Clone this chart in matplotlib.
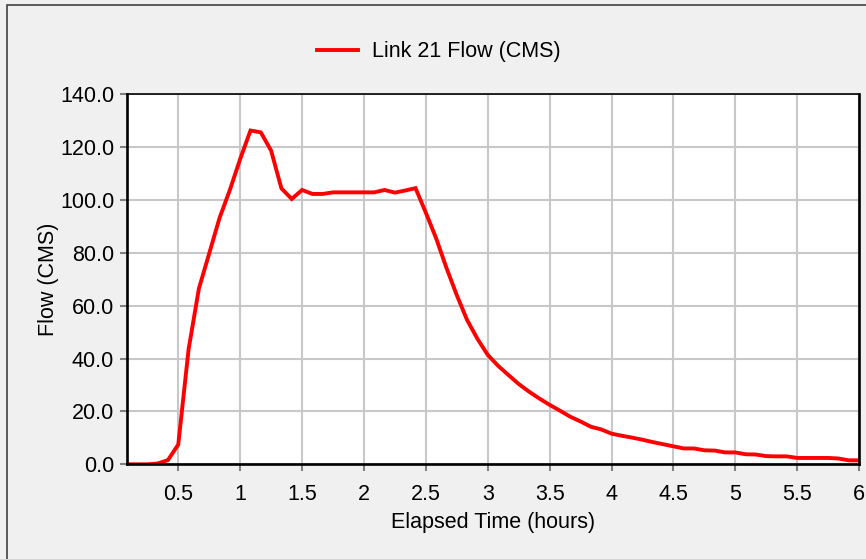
import matplotlib
matplotlib.use("Agg")
import matplotlib.pyplot as plt
from matplotlib.patches import Rectangle
from matplotlib.ticker import FormatStrFormatter
import numpy as np

plt.rcParams['font.family'] = ['Liberation Sans', 'DejaVu Sans']

# 5-minute reporting steps over 6 hours
minutes = np.arange(5, 365, 5)
hours = minutes / 60.0

# Link 21 flow (CMS) at each reporting step
flow = [0.0, 0.0, 0.0, 0.3, 1.6, 7.5, 43.5, 66.5, 79.8, 93.2, 103.8, 115.5,
        126.3, 125.6, 118.7, 104.4, 100.4, 103.8, 102.3, 102.3, 102.9, 102.9, 102.9, 102.9,
        102.9, 103.8, 102.8, 103.6, 104.5, 95.2, 85.5, 74.3, 64.0, 54.6, 47.5, 41.4,
        37.3, 33.8, 30.4, 27.5, 24.9, 22.5, 20.3, 18.0, 16.2, 14.2, 13.2, 11.6,
        10.8, 10.1, 9.3, 8.4, 7.6, 6.8, 6.0, 6.0, 5.3, 5.2, 4.5, 4.5,
        3.8, 3.7, 3.1, 3.0, 3.0, 2.4, 2.4, 2.4, 2.4, 2.2, 1.5, 1.5]

x_ticks = [0.5, 1, 1.5, 2, 2.5, 3, 3.5, 4, 4.5, 5, 5.5, 6]
x_tick_labels = ['0.5', '1', '1.5', '2', '2.5', '3', '3.5', '4', '4.5', '5', '5.5', '6']
y_ticks = [0, 20, 40, 60, 80, 100, 120, 140]

fs = 15.5

fig = plt.figure(figsize=(8.66, 5.59), dpi=100, facecolor='#f0f0f0')
ax = fig.add_axes([0.1463, 0.1694, 0.8457, 0.6619])
ax.set_facecolor('white')

ax.plot(hours, flow, color='#ff0000', lw=2.8, label='Link 21 Flow (CMS)',
        solid_joinstyle='miter')

ax.set_xlim(1 / 12, 6)
ax.set_ylim(0, 140)
ax.set_xticks(x_ticks)
ax.set_xticklabels(x_tick_labels)
ax.set_yticks(y_ticks)
ax.yaxis.set_major_formatter(FormatStrFormatter('%.1f'))
ax.grid(color='#c8c8c8', lw=1.5)
ax.set_axisbelow(True)

ax.tick_params(colors='#808080', labelcolor='black', labelsize=fs,
               length=5, width=1.5, pad=4)
ax.tick_params(axis='x', pad=9)
for side in ['left', 'bottom', 'right']:
    ax.spines[side].set_linewidth(1.9)
ax.spines['top'].set_linewidth(1.2)
for s in ax.spines.values():
    s.set_color('black')

ax.set_xlabel('Elapsed Time (hours)', fontsize=fs, labelpad=5)
ax.set_ylabel('Flow (CMS)', fontsize=fs, labelpad=1)

fig.legend(loc='center', bbox_to_anchor=(0.507, 1 - 52 / 559), frameon=False,
           fontsize=fs, handlelength=1.9, handletextpad=0.65)

# outer frame around the chart window
fig.patches.append(Rectangle((7 / 866, -0.1), 2, 1.1 - 5 / 559, transform=fig.transFigure,
                             fill=False, edgecolor='#404040', lw=1.2))

fig.savefig('out.png', dpi=100, facecolor=fig.get_facecolor())
